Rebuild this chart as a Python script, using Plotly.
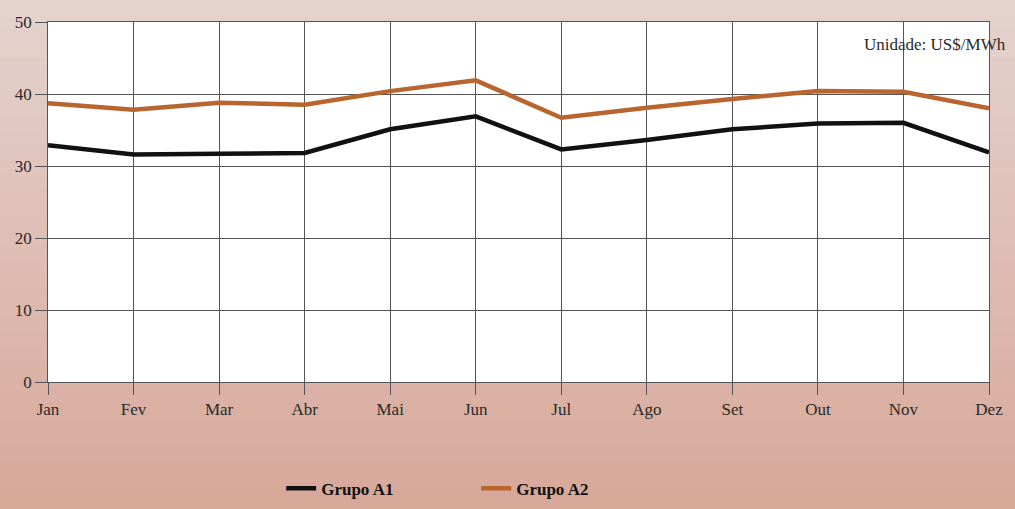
import plotly.graph_objects as go

months = ["Jan", "Fev", "Mar", "Abr", "Mai", "Jun", "Jul", "Ago", "Set", "Out", "Nov", "Dez"]
grupo_a1 = [32.9, 31.6, 31.7, 31.8, 35.1, 36.9, 32.3, 33.6, 35.1, 35.9, 36.0, 31.9]
grupo_a2 = [38.7, 37.8, 38.8, 38.5, 40.4, 41.9, 36.7, 38.1, 39.3, 40.4, 40.3, 38.0]
y_ticks = [0, 10, 20, 30, 40, 50]

fig = go.Figure()
fig.add_trace(go.Scatter(x=months, y=grupo_a1, mode="lines", name="Grupo A1",
                         line=dict(color="#111111", width=4.5)))
fig.add_trace(go.Scatter(x=months, y=grupo_a2, mode="lines", name="Grupo A2",
                         line=dict(color="#b8652f", width=4.5)))

# peach gradient background bands (paper), then white plot area
shapes = []
n = 40
top = (230, 212, 208)
bot = (214, 164, 148)
for i in range(n):
    t = i / (n - 1)
    c = tuple(int(top[k] + (bot[k] - top[k]) * t) for k in range(3))
    shapes.append(dict(type="rect", xref="paper", yref="paper", layer="below",
                       x0=-0.1, x1=1.1, y0=1.1 - (i + 1) * 1.6 / n - 0.01, y1=1.1 - i * 1.6 / n,
                       fillcolor="rgb(%d,%d,%d)" % c, line=dict(width=0)))
shapes.append(dict(type="rect", xref="x domain", yref="y domain", layer="below",
                   x0=0, x1=1, y0=0, y1=1, fillcolor="white", line=dict(width=0)))

fig.update_layout(
    width=1015, height=509,
    margin=dict(l=48, r=18, t=22, b=127),
    paper_bgcolor="rgb(214,164,148)",
    plot_bgcolor="white",
    font=dict(family="Liberation Serif", size=17, color="#2a2a2a"),
    shapes=shapes,
    showlegend=True,
    legend=dict(orientation="h", x=0.455, xanchor="center", yref="container", y=0.04, yanchor="middle",
                font=dict(family="Liberation Serif", size=17, color="#111111", weight="bold"),
                bgcolor="rgba(0,0,0,0)", entrywidthmode="pixels", entrywidth=150),
    annotations=[dict(text="Unidade: US$/MWh", xref="paper", yref="paper", x=1.02, y=0.97,
                      xanchor="right", yanchor="top", showarrow=False,
                      font=dict(family="Liberation Serif", size=17, color="#2a2a2a"))],
)
fig.update_xaxes(type="category", range=[0, 11], showgrid=True, gridcolor="#555555", gridwidth=0.8,
                 ticks="outside", ticklen=12, tickcolor="#555555", showline=True, linecolor="#555555",
                 linewidth=0.8, mirror=True, zeroline=False)
fig.update_yaxes(range=[0, 50], tickvals=y_ticks, showgrid=True, gridcolor="#555555", gridwidth=0.8,
                 ticks="outside", ticklen=12, tickcolor="#555555", showline=True, linecolor="#555555",
                 linewidth=0.8, mirror=True, zeroline=False)

fig.write_html("out.html", config={"displayModeBar": False},
               post_script="document.body.style.margin='0';document.body.style.padding='0';")
